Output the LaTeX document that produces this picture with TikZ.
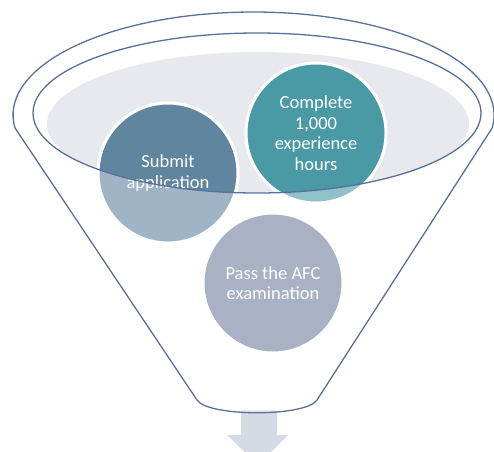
\documentclass[tikz,border=0pt]{standalone}
\usepackage{fontspec}
\setmainfont{Carlito}
\usetikzlibrary{positioning}
\definecolor{rimline}{HTML}{5B6F9B}
\definecolor{mouthgrey}{HTML}{E7E9EE}
\definecolor{submitblue}{HTML}{60859F}
\definecolor{hourteal}{HTML}{4A9AA6}
\definecolor{passgrey}{HTML}{70809D}
\definecolor{arrowgrey}{HTML}{D5DAE3}

\begin{document}
\begin{tikzpicture}[x=1pt, y=-1pt, step circle/.style={circle, draw=white, line width=3pt, minimum size=140pt, inner sep=0pt, text=white, align=center, font=\fontsize{18.5}{20.7}\selectfont},rim/.style={draw=rimline, line width=1.3pt}]
  \clip (0,0) rectangle (494,451);
  \useasboundingbox (0,0) rectangle (494,451);

  \begin{scope}
    \clip (257,113) ellipse[x radius=224, y radius=80];
    \fill[mouthgrey] (258,124) ellipse[x radius=211, y radius=72];
  \end{scope}

  \fill[arrowgrey] (241,410) -- (277,410) -- (277,435) -- (288,435) -- (258,465) -- (227,435) -- (241,435) -- cycle;

  \node[step circle, fill=submitblue] (submit) at (168,173) {Submit\\application};
  \node[step circle, fill=hourteal] (hours) at (316,133) {Complete\\1,000\\experience\\hours};
  \node[step circle, fill=passgrey] (pass) at (273,283) {Pass the AFC\\examination};

  \fill[white, opacity=0.4, even odd rule] (15,128) arc[start angle=172.75, end angle=367.25, x radius=240.5, y radius=103] -- (317,400) .. controls (306,417) and (208,417) .. (197,400) -- cycle (257,113) ellipse[x radius=224, y radius=80];

  \draw[rim, line join=round] (15,128) arc[start angle=172.75, end angle=367.25, x radius=240.5, y radius=103] -- (317,400) .. controls (306,417) and (208,417) .. (197,400) -- cycle;
  \draw[rim] (257,113) ellipse[x radius=224, y radius=80];
\end{tikzpicture}
\end{document}
